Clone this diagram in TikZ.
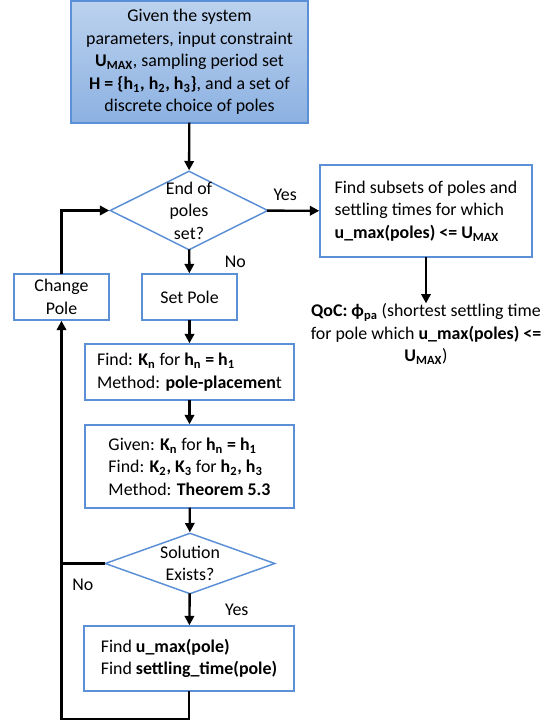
\documentclass[tikz,border=0pt]{standalone}
\usepackage{fontspec}
\setmainfont{Carlito}
\usepackage{tikz}
\usetikzlibrary{shapes.geometric, arrows.meta, positioning}
\definecolor{boxblue}{RGB}{91,143,214}
\definecolor{topfill}{RGB}{188,210,238}
\definecolor{botfill}{RGB}{140,177,226}
\newdimen\pxu
\pxu=0.75pt
\tikzset{
  process/.style={draw=boxblue, line width=1.1pt, fill=white, inner sep=0pt},
  leftbox/.style={process, align=left},
  decision/.style={diamond, draw=boxblue, line width=1.1pt, fill=white, inner sep=0pt},
  startbox/.style={draw=boxblue, line width=1.1pt, top color=topfill, bottom color=botfill, align=center, inner sep=0pt},
  conn/.style={line width=1.8pt, line cap=rect},
}

\begin{document}
\begin{tikzpicture}[x=0.75pt, y=-0.75pt, >={Triangle[length=7pt, width=7pt]},
    font=\fontsize{13.4pt}{16.8pt}\selectfont]
        \useasboundingbox (0,0) rectangle (558,723);
        % start and first decision
        \node[startbox, minimum width=237\pxu, minimum height=122\pxu] (given) at (189.5,62)
            {Given the system\\parameters, input constraint\\\textbf{U\textsubscript{MAX}}, sampling period set\\\textbf{H = \{h\textsubscript{1}, h\textsubscript{2}, h\textsubscript{3}\}}, and a set of\\discrete choice of poles};
        \node[decision, minimum width=158\pxu, minimum height=79\pxu,
              label={[align=center, name=endsettxt]center:End of\\poles\\set?}] (endset) at (189,210.5) {};
        % right branch
        \node[leftbox, minimum width=212\pxu, minimum height=92\pxu] (findsub) at (426,211)
            {Find subsets of poles and\\settling times for which\\\textbf{u\_max(poles) <= U\textsubscript{MAX}}};
        \node[align=center, inner sep=0pt] (qoc) at (426,334)
            {\textbf{QoC: ϕ\textsubscript{pa}} (shortest settling time\\for pole which \textbf{u\_max(poles) <=}\\\textbf{U\textsubscript{MAX}})};
        % loop body
        \node[process, align=center, minimum width=95\pxu, minimum height=46\pxu] (change) at (61.5,297) {Change\\Pole};
        \node[process, minimum width=95\pxu, minimum height=46\pxu] (setpole) at (189.5,297) {Set Pole};
        \node[leftbox, minimum width=209\pxu, minimum height=56\pxu] (findk) at (189.5,372)
            {Find: \textbf{K\textsubscript{n}} for \textbf{h\textsubscript{n} = h\textsubscript{1}}\\Method: \textbf{pole-placemen}t};
        \node[leftbox, minimum width=209\pxu, minimum height=83\pxu] (findkk) at (189.5,466.5)
            {Given: \textbf{K\textsubscript{n}} for \textbf{h\textsubscript{n} = h\textsubscript{1}}\\Find: \textbf{K\textsubscript{2}, K\textsubscript{3}} for \textbf{h\textsubscript{2}, h\textsubscript{3}}\\Method: \textbf{Theorem 5.3}};
        \node[decision, minimum width=170\pxu, minimum height=61\pxu,
              label={[align=center, name=solexisttxt]center:Solution\\Exists?}] (solexist) at (190,563.5) {};
        \node[leftbox, minimum width=210\pxu, minimum height=65\pxu] (findu) at (189,658.5)
            {Find \textbf{u\_max(pole)}\\Find \textbf{settling\_time(pole)}};
        % connectors
        \draw[conn, ->] (given) -- (endset);
        \draw[conn, ->] (endset) -- node[pos=0.33, above=4\pxu] (yesa) {Yes} (findsub);
        \draw[conn, ->] (endset) -- node[midway, right=30\pxu] (noa) {No} (setpole);
        \draw[conn, ->] (findsub) -- (qoc);
        \draw[conn, ->] (setpole) -- (findk);
        \draw[conn, ->] (findk) -- (findkk);
        \draw[conn, ->] (findkk) -- (solexist);
        \draw[conn, ->] (solexist) -- node[midway, right=30\pxu] (yesb) {Yes} (findu);
        \draw[conn] (solexist.west) -- node[midway, below=10\pxu] (nob) {No} (solexist.west -| change.south);
        \draw[conn, ->] (findu.south) -- ++(0,27) -| (change.south);
        \draw[conn, ->] (change.north) |- (endset.west);
\end{tikzpicture}
\end{document}
